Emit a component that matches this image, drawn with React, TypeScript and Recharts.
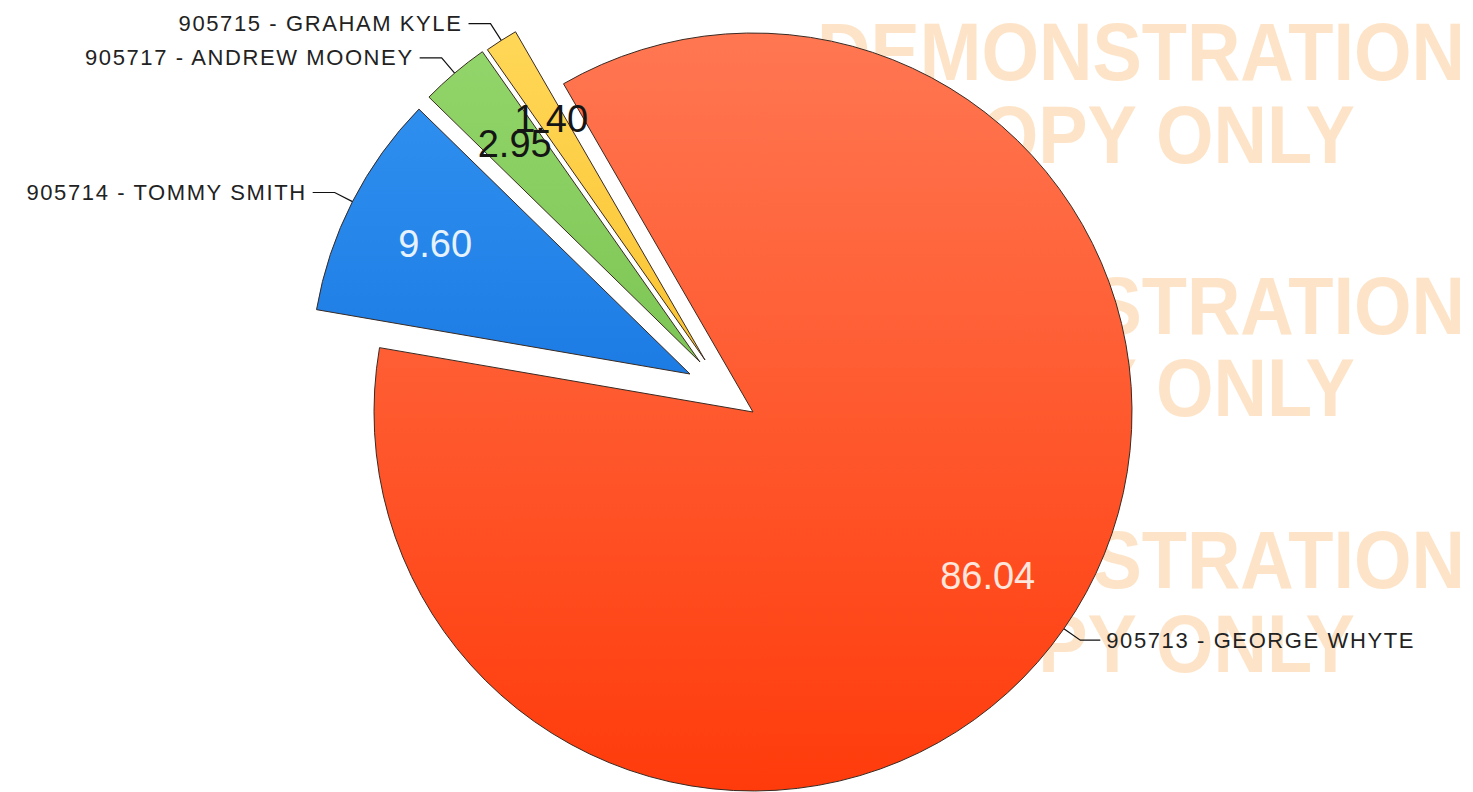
import React from 'react';
import { PieChart, Pie, Cell } from 'recharts';

// ---- data ----
const names = ['905713 - GEORGE WHYTE', '905714 - TOMMY SMITH', '905717 - ANDREW MOONEY', '905715 - GRAHAM KYLE'];
const values = [86.04, 9.6, 2.95, 1.4];
const valueLabels = ['86.04', '9.60', '2.95', '1.40'];
const watermarkLines = ['DEMONSTRATION', 'COPY ONLY', 'DEMONSTRATION', 'COPY ONLY', 'DEMONSTRATION', 'COPY ONLY'];

const data = names.map((name, i) => ({ name, value: values[i], label: valueLabels[i] }));

// ---- layout / style ----
const W = 1473;
const H = 792;
const CX = 753;
const CY = 412;
const R = 379;
const explode = [
  { dx: 0, dy: 0 },
  { dx: -63, dy: -38 },
  { dx: -53, dy: -50 },
  { dx: -48, dy: -52 },
];
const gradIds = ['gRed', 'gBlue', 'gGreen', 'gYellow'];
const gradStops = [
  ['#FF7752', '#FF3B0B'],
  ['#2E8FEF', '#1D7CE4'],
  ['#92D56A', '#7DC655'],
  ['#FFD757', '#FAC432'],
];
const valueColors = ['#FFE6DC', '#E6F3FF', '#151515', '#151515'];
const wmBaselines = [80, 163, 334, 416, 588, 672];
const RAD = Math.PI / 180;

function makeLabel(k: number) {
  return (p: any) => {
    if (p.index !== k) return null;
    const { cx, cy, midAngle, outerRadius } = p;
    const cos = Math.cos(-midAngle * RAD);
    const sin = Math.sin(-midAngle * RAD);
    const vr = outerRadius * 0.755;
    const vx = cx + vr * cos;
    const vy = cy + vr * sin;
    const sx = cx + outerRadius * cos;
    const sy = cy + outerRadius * sin;
    const ex = cx + (outerRadius + 20) * cos;
    const ey = cy + (outerRadius + 20) * sin;
    const right = cos >= 0;
    const hx = ex + (right ? 20 : -22);
    const tx = hx + (right ? 6 : -6);
    return (
      <g>
        <text
          x={vx}
          y={vy}
          textAnchor="middle"
          dominantBaseline="central"
          fill={valueColors[p.index]}
          fontSize={38}
          fontFamily="'Liberation Sans', Arial, sans-serif"
        >
          {p.payload.label}
        </text>
        <polyline points={`${sx},${sy} ${ex},${ey} ${hx},${ey}`} fill="none" stroke="#111" strokeWidth={1.2} />
        <text
          x={tx}
          y={ey}
          textAnchor={right ? 'start' : 'end'}
          dominantBaseline="central"
          fill="#222"
          fontSize={22}
          letterSpacing={1.6}
          fontFamily="'Liberation Sans', Arial, sans-serif"
        >
          {p.name}
        </text>
      </g>
    );
  };
}

export default function App() {
  return (
    <div style={{ position: 'absolute', left: 0, top: 0, width: W, height: H, background: '#fff', overflow: 'hidden' }}>
      <svg width={W} height={H} style={{ position: 'absolute', left: 0, top: 0 }}>
        {watermarkLines.map((t, i) => (
          <text
            key={i}
            transform={`translate(1141, ${wmBaselines[i]}) scale(1, 1.1)`}
            textAnchor="middle"
            fill="#FDE4C8"
            fontSize={74}
            fontWeight="bold"
            fontFamily="'Liberation Sans', Arial, sans-serif"
          >
            {t}
          </text>
        ))}
      </svg>
      <div style={{ position: 'absolute', left: 0, top: 0 }}>
        <PieChart width={W} height={H} margin={{ top: 0, right: 0, bottom: 0, left: 0 }}>
          <defs>
            {gradIds.map((id, i) => (
              <linearGradient key={id} id={id} x1="0" y1="0" x2="0" y2="1">
                <stop offset="0%" stopColor={gradStops[i][0]} />
                <stop offset="100%" stopColor={gradStops[i][1]} />
              </linearGradient>
            ))}
          </defs>
          {data.map((_, k) => (
            <Pie
              key={k}
              data={data}
              dataKey="value"
              nameKey="name"
              cx={CX + explode[k].dx}
              cy={CY + explode[k].dy}
              innerRadius={0}
              outerRadius={R}
              startAngle={120}
              endAngle={-240}
              isAnimationActive={false}
              labelLine={false}
              label={makeLabel(k)}
            >
              {data.map((d, i) => (
                <Cell
                  key={i}
                  fill={i === k ? `url(#${gradIds[i]})` : 'none'}
                  stroke={i === k ? '#3a2a22' : 'none'}
                  strokeWidth={i === k ? 1 : 0}
                />
              ))}
            </Pie>
          ))}
        </PieChart>
      </div>
    </div>
  );
}
